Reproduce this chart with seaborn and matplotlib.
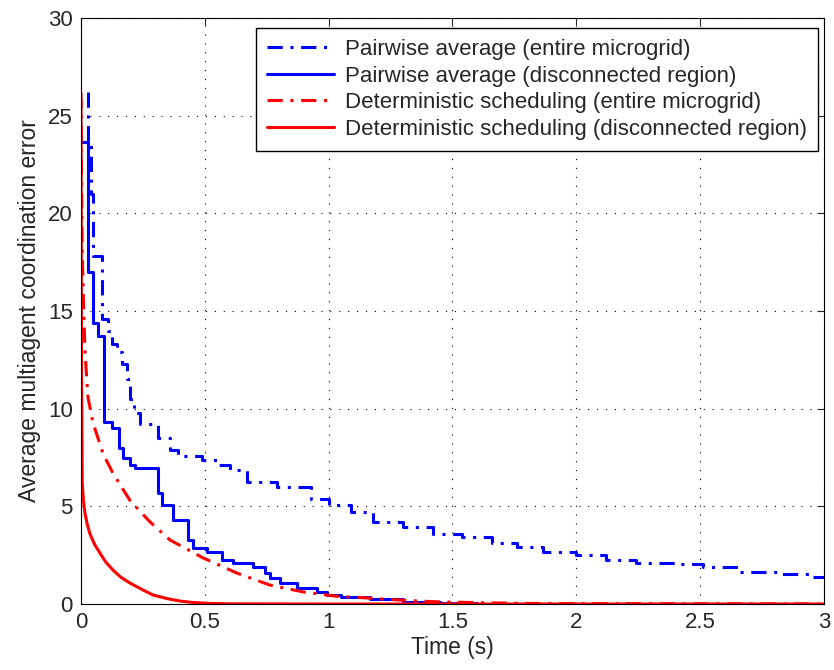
import pandas as pd
import matplotlib
matplotlib.use('Agg')
import matplotlib.pyplot as plt
import seaborn as sns

# Pairwise average, entire microgrid (stepped)
pw_all_t = [0.027, 0.03, 0.04, 0.048, 0.085, 0.11, 0.125, 0.145, 0.166, 0.186, 0.198,
            0.215, 0.238, 0.31, 0.36, 0.39, 0.49, 0.55, 0.6, 0.67, 0.79, 0.93, 1.0, 1.09, 1.18,
            1.3, 1.42, 1.54, 1.66, 1.76, 1.865, 2.0, 2.12, 2.24, 2.42, 2.51, 2.66, 2.81, 2.94, 3.0]
pw_all_v = [26.2, 23.5, 21.0, 17.8, 14.6, 14.0, 13.3, 12.9, 12.3, 11.5, 10.5,
            9.8, 9.2, 8.5, 7.9, 7.6, 7.35, 7.1, 6.85, 6.25, 6.0, 5.4, 5.07, 4.7, 4.2,
            3.95, 3.6, 3.43, 3.1, 2.9, 2.66, 2.5, 2.25, 2.1, 2.05, 1.9, 1.65, 1.53, 1.4, 1.38]

# Pairwise average, disconnected region (stepped)
pw_dis_t = [0, 0.028, 0.03, 0.048, 0.069, 0.093, 0.125, 0.153, 0.17, 0.198, 0.218, 0.311, 0.327,
            0.371, 0.432, 0.452, 0.509, 0.569, 0.614, 0.694, 0.743, 0.763, 0.803, 0.872, 0.953,
            0.993, 1.05, 1.167, 1.3, 1.45, 1.6, 3.0]
pw_dis_v = [23.65, 22.6, 17.0, 14.4, 13.7, 9.3, 9.0, 8.0, 7.5, 7.1, 6.95, 5.7, 5.07,
            4.3, 3.3, 2.87, 2.66, 2.25, 2.1, 1.9, 1.58, 1.33, 1.07, 0.82, 0.62,
            0.46, 0.38, 0.25, 0.12, 0.05, 0.02, 0.01]

# Deterministic scheduling, entire microgrid
ds_all_t = [0, 0.002, 0.005, 0.01, 0.016, 0.028, 0.048, 0.089, 0.129, 0.198, 0.279, 0.359, 0.493,
            0.63, 0.763, 0.896, 1.03, 1.167, 1.29, 1.42, 1.56, 1.69, 1.82, 2.0, 2.5, 3.0]
ds_all_v = [26.2, 22, 18, 15.5, 13.0, 10.6, 9.3, 7.7, 6.7, 5.3, 4.2, 3.28, 2.36,
            1.58, 0.97, 0.62, 0.4, 0.3, 0.2, 0.12, 0.08, 0.05, 0.03, 0.02, 0.01, 0.0]

# Deterministic scheduling, disconnected region
ds_dis_t = [0, 0.002, 0.005, 0.01, 0.016, 0.025, 0.036, 0.055, 0.077, 0.1, 0.129, 0.16, 0.198,
            0.25, 0.291, 0.35, 0.4, 0.45, 0.52, 0.6, 1.0, 3.0]
ds_dis_v = [25.8, 12, 6.2, 5.3, 4.66, 4.1, 3.6, 3.05, 2.6, 2.15, 1.74, 1.38, 1.07,
            0.72, 0.46, 0.27, 0.15, 0.08, 0.03, 0.01, 0, 0]

sns.set_style('white')
plt.rcParams['font.family'] = ['Liberation Sans', 'DejaVu Sans']
plt.rcParams['xtick.direction'] = 'in'
plt.rcParams['ytick.direction'] = 'in'

fig = plt.figure(figsize=(8.34, 6.70), dpi=100)
ax = fig.add_axes([0.0971, 0.0985, 0.8909, 0.8745])

dashdot = (5, 2.5, 1, 2.5)
sns.lineplot(x=pw_all_t, y=pw_all_v, ax=ax, color='#0000ff', lw=2.2, drawstyle='steps-post',
             estimator=None, label='Pairwise average (entire microgrid)')
ax.lines[-1].set_dashes(dashdot)
sns.lineplot(x=pw_dis_t, y=pw_dis_v, ax=ax, color='#0000ff', lw=2.2, drawstyle='steps-post',
             estimator=None, label='Pairwise average (disconnected region)')
sns.lineplot(x=ds_all_t, y=ds_all_v, ax=ax, color='#ff0000', lw=2.2,
             estimator=None, label='Deterministic scheduling (entire microgrid)')
ax.lines[-1].set_dashes(dashdot)
sns.lineplot(x=ds_dis_t, y=ds_dis_v, ax=ax, color='#ff0000', lw=2.2,
             estimator=None, label='Deterministic scheduling (disconnected region)')

ax.set_xlim(0, 3)
ax.set_ylim(0, 30)
ax.set_xticks([0, 0.5, 1, 1.5, 2, 2.5, 3])
ax.set_xticklabels(['0', '0.5', '1', '1.5', '2', '2.5', '3'])
ax.set_yticks([0, 5, 10, 15, 20, 25, 30])
ax.tick_params(labelsize=16, top=True, right=True, length=5, width=0.8)
ax.tick_params(axis='x', pad=6)
ax.tick_params(axis='y', pad=6)
ax.grid(True, color='black', linestyle=(0, (1, 7)), lw=0.8)
for s in ax.spines.values():
    s.set_color('black')
    s.set_linewidth(0.8)

ax.set_xlabel('Time (s)', fontsize=16.5, labelpad=2)
ax.set_ylabel('Average multiagent coordination error', fontsize=16.5, labelpad=5)

leg = ax.legend(loc='upper right', bbox_to_anchor=(0.992, 0.983), borderaxespad=0,
                fontsize=16, handlelength=3.0, frameon=True, fancybox=False,
                framealpha=1, edgecolor='black', borderpad=0.5, labelspacing=0.25,
                handletextpad=0.5)
leg.get_frame().set_linewidth(1)
for h in leg.get_lines():
    h.set_linewidth(2.2)

fig.savefig('out.png', dpi=100)
